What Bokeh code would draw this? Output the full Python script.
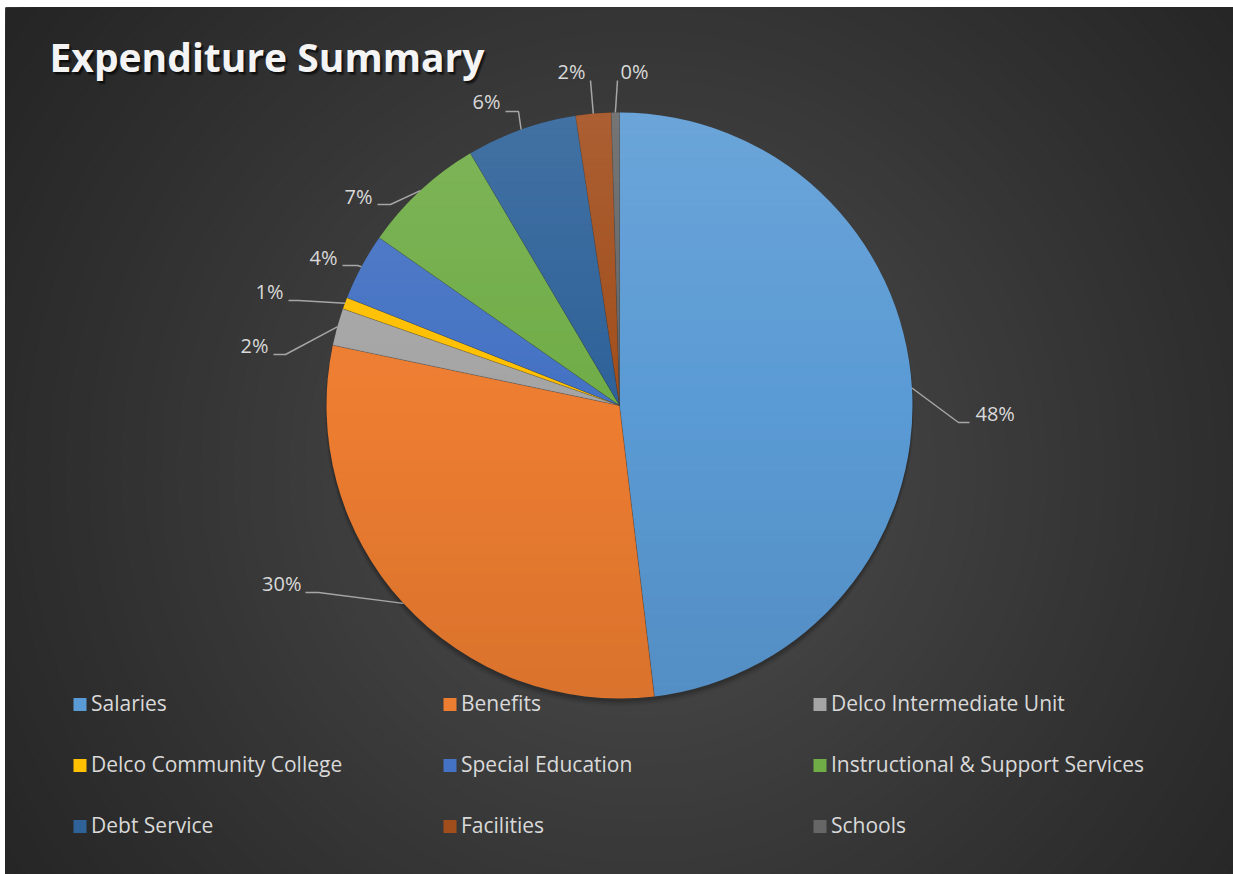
import numpy as np
from bokeh.plotting import figure
from bokeh.models import Range1d
from bokeh.core.properties import value
from bokeh.embed import file_html
from bokeh.resources import INLINE

# ---------------- data ----------------
categories = ["Salaries", "Benefits", "Delco Intermediate Unit", "Delco Community College",
              "Special Education", "Instructional & Support Services", "Debt Service",
              "Facilities", "Schools"]
shares = [48.1, 30.2, 2.05, 0.65, 3.7, 6.8, 6.1, 1.95, 0.45]
title_text = "Expenditure Summary"

# ---------------- style / layout ----------------
colors = ["#5B9BD5", "#ED7D31", "#A5A5A5", "#FFC000", "#4472C4", "#70AD47",
          "#2E6299", "#A24E1C", "#666666"]
W, H = 1233, 874
TOP = 7
LEFT = 5


def Y(py):
    return H - py


CX, CY, R = 619, Y(405), 293
FONT = "Open Sans"
TXT = "#d9d9d9"
LEADER = "#a6a6a6"

# label placement (pixel coords): text anchor, alignment, leader points near text
label_layout = [
    dict(tx=975, ty=413, align="left", pts=[(969, 422), (958, 422)]),
    dict(tx=301, ty=583, align="right", pts=[(305, 592), (318, 592)]),
    dict(tx=268, ty=345, align="right", pts=[(273, 354), (285, 354)]),
    dict(tx=283, ty=291, align="right", pts=[(288, 300), (298, 300)]),
    dict(tx=337, ty=257, align="right", pts=[(342, 265), (357, 265)]),
    dict(tx=372, ty=196, align="right", pts=[(377, 204), (390, 204)]),
    dict(tx=500, ty=101, align="right", pts=[(505, 111), (518, 111)]),
    dict(tx=571, ty=71, align="center", pts=[(590, 80)]),
    dict(tx=634, ty=71, align="center", pts=[(617, 80)]),
]

p = figure(width=W, height=H, x_range=Range1d(LEFT, W), y_range=Range1d(0, H - TOP),
           output_backend="svg", toolbar_location=None,
           x_axis_location=None, y_axis_location=None,
           min_border_left=LEFT, min_border_top=TOP, min_border_right=0, min_border_bottom=0,
           border_fill_color="white", outline_line_color=None,
           background_fill_color="#2a2a2a")
p.grid.visible = False

# radial background gradient
gcx, gcy = 640, Y(470)
rmax = 800
radii = np.arange(rmax, 0, -8)
bg_cols = []
for r in radii:
    t = r / rmax
    g = int(round(36 + (79 - 36) * (1 - t) ** 1.1))
    bg_cols.append("#%02x%02x%02x" % (g, g, g))
p.circle(x=[gcx] * len(radii), y=[gcy] * len(radii), radius=list(radii),
         fill_color=bg_cols, line_color=None)

# soft pie shadow (mostly below)
for k, a in [(0, 0.10), (1, 0.08), (2, 0.06), (3, 0.04)]:
    p.circle(x=[CX], y=[CY - 3 - k], radius=R + k * 0.6, fill_color="black",
             fill_alpha=a, line_color=None)

# wedges
total = float(sum(shares))
fr = [s / total for s in shares]
cum = np.concatenate([[0], np.cumsum(fr)])
starts = [np.pi / 2 - 2 * np.pi * c for c in cum[:-1]]
ends = [np.pi / 2 - 2 * np.pi * c for c in cum[1:]]
p.wedge(x=CX, y=CY, radius=R, start_angle=starts, end_angle=ends, direction="clock",
        fill_color=colors, line_color=None)
# thin slice separators (radii only)
for c in cum[:-1]:
    a = 2 * np.pi * c
    p.line([CX, CX + R * np.sin(a)], [CY, CY + R * np.cos(a)],
           line_color="#303030", line_alpha=0.35, line_width=0.8)

# vertical shading over the pie (lighter top, darker bottom)
band = 6
yb = np.arange(-R, R, band)
bxs, bys, bcol, balpha = [], [], [], []
for y0 in yb:
    y1 = min(y0 + band, R)
    ys_arc = np.linspace(y0, y1, 4)
    xr = np.sqrt(np.maximum(R * R - ys_arc ** 2, 0))
    bxs.append(list(CX + xr) + list(CX - xr[::-1]))
    bys.append(list(CY + ys_arc) + list(CY + ys_arc[::-1]))
    m = (y0 + y1) / 2 / R  # -1 bottom .. 1 top
    if m >= 0:
        bcol.append("white"); balpha.append(0.10 * m)
    else:
        bcol.append("black"); balpha.append(0.08 * -m)
p.patches(bxs, bys, fill_color=bcol, fill_alpha=balpha, line_color=None)

# data labels with leader lines
for i, s in enumerate(shares):
    lay = label_layout[i]
    mid = 2 * np.pi * (cum[i] + cum[i + 1]) / 2
    ex = CX + R * np.sin(mid)
    ey = CY + R * np.cos(mid)
    xs = [x for x, _ in lay["pts"]] + [ex]
    ys = [Y(y) for _, y in lay["pts"]] + [ey]
    p.line(xs, ys, line_color=LEADER, line_width=1.5)
    p.text(x=[lay["tx"]], y=[Y(lay["ty"])], text=["%d%%" % round(s / total * 100)],
           text_font=value(FONT), text_font_size="20px", text_color=TXT,
           text_align=lay["align"], text_baseline="middle")

# title with shadow
TX, TY = 49, 56
TS = "39px"
for dx, dy, a in [(3, -3, 0.2), (2, -2, 0.3), (1, -2, 0.3), (2, -4, 0.12)]:
    p.text(x=[TX + dx], y=[Y(TY) + dy], text=[title_text], text_font=value(FONT),
           text_font_style="bold", text_font_size=TS, text_color="black",
           text_alpha=a, text_baseline="alphabetic")
p.text(x=[TX], y=[Y(TY)], text=[title_text], text_font=value(FONT),
       text_font_style="bold", text_font_size=TS, text_color="#f4f4f4",
       text_baseline="alphabetic")

# legend (3 columns x 3 rows)
lx = [79.5 + (i % 3) * 370 for i in range(len(categories))]
ly = [Y(704 + (i // 3) * 61) for i in range(len(categories))]
p.rect(x=lx, y=ly, width=13, height=13, fill_color=colors, line_color=None)
p.text(x=[x + 11 for x in lx], y=[y + 2 for y in ly], text=categories, text_font=value(FONT),
       text_font_size="21px", text_color=TXT, text_baseline="middle")

open("out.html", "w").write(file_html(p, INLINE))
